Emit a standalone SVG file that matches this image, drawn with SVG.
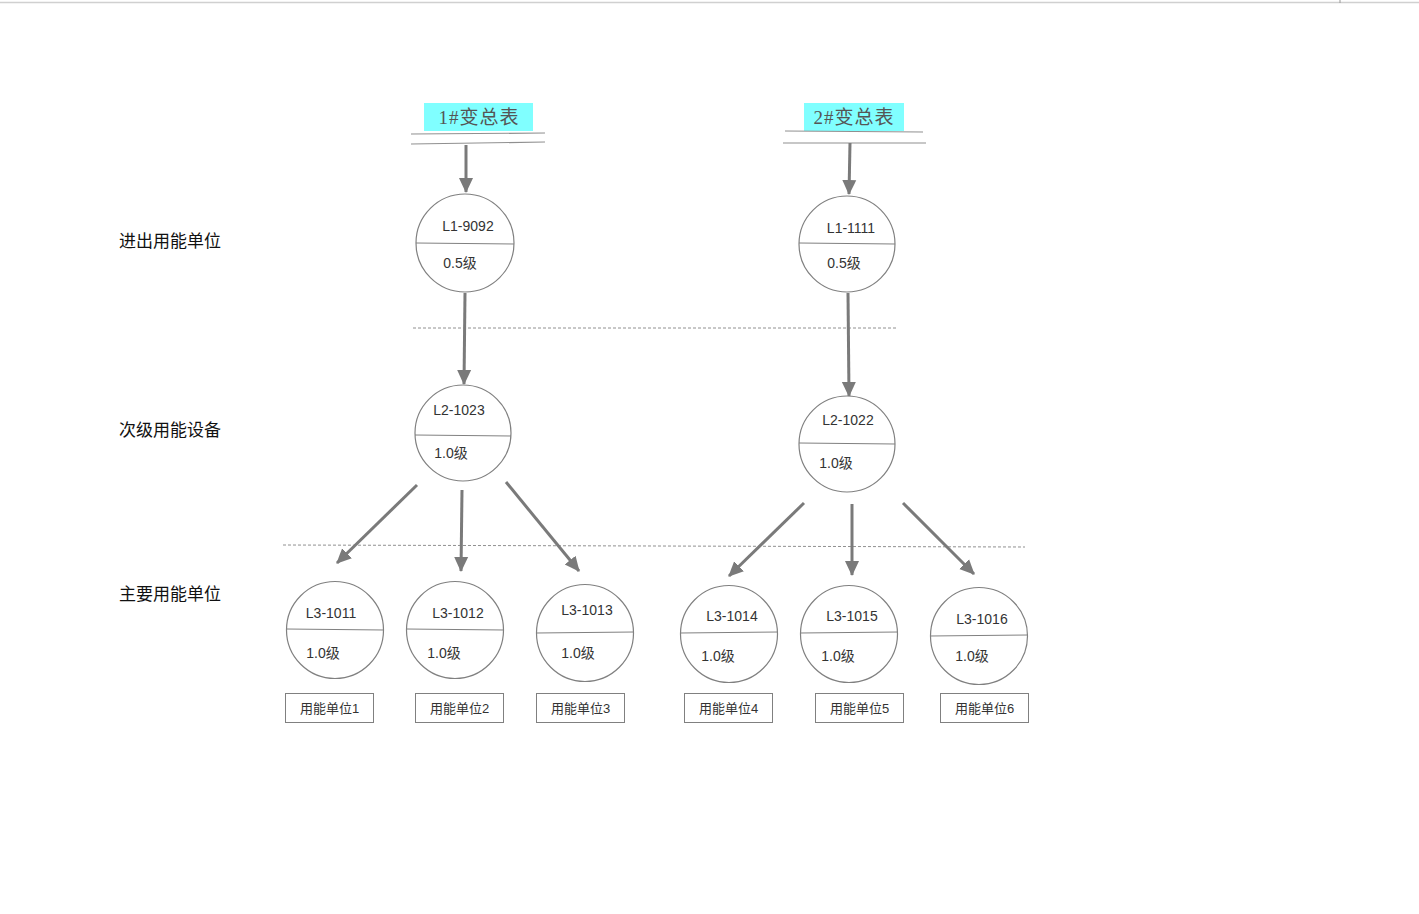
<svg xmlns="http://www.w3.org/2000/svg" width="1419" height="914" viewBox="0 0 1419 914">
  <style>
    .node circle { fill: #ffffff; stroke: #808080; stroke-width: 1.2; }
    .node line { stroke: #808080; stroke-width: 1; }
    .node text { font-family: "Liberation Sans", "Noto Sans CJK SC", sans-serif; font-size: 14px; fill: #333333; text-anchor: middle; }
    .unit rect { fill: #ffffff; stroke: #808080; stroke-width: 1; }
    .unit text { font-family: "Liberation Sans", "Noto Sans CJK SC", sans-serif; font-size: 13px; fill: #333333; text-anchor: middle; }
    .level { font-family: "Liberation Sans", "Noto Sans CJK SC", sans-serif; font-size: 17px; fill: #111111; }
    .meter rect { fill: #80ffff; }
    .meter text { font-family: "Liberation Serif", "Noto Sans CJK SC", serif; font-size: 19px; letter-spacing: 1px; fill: #555555; text-anchor: middle; }
    .meter line { stroke: #909090; stroke-width: 1.2; }
    .edges line { stroke: #7a7a7a; stroke-width: 3; marker-end: url(#arrow); }
    .sep { stroke: #909090; stroke-width: 1; stroke-dasharray: 3 2; }
  </style>
  <defs>
    <marker id="arrow" markerUnits="userSpaceOnUse" markerWidth="16" markerHeight="16" viewBox="0 0 16 16" refX="14" refY="8" orient="auto">
      <path d="M0,1 L15,8 L0,15 Z" fill="#7a7a7a"/>
    </marker>
  </defs>

  <rect width="1419" height="914" fill="#ffffff"/>
  <!-- top frame edge -->
  <line x1="0" y1="2.5" x2="1419" y2="2.5" stroke="#d0d0d0" stroke-width="1.5"/>
  <line x1="1340" y1="0" x2="1340" y2="3" stroke="#999999" stroke-width="1"/>

  <!-- level labels -->
  <text class="level" x="119" y="247">进出用能单位</text>
  <text class="level" x="119" y="436">次级用能设备</text>
  <text class="level" x="119" y="600">主要用能单位</text>

  <!-- level separators -->
  <line class="sep" x1="413" y1="328" x2="896" y2="328"/>
  <line class="sep" x1="283" y1="545" x2="1025" y2="547"/>

  <!-- transformer meters -->
  <g id="meter1" class="meter">
    <rect x="424" y="103" width="109" height="28"/>
    <text x="479" y="124">1#变总表</text>
    <line x1="411" y1="134" x2="545" y2="133"/>
    <line x1="411" y1="144" x2="545" y2="142"/>
  </g>
  <g id="meter2" class="meter">
    <rect x="804" y="103" width="100" height="28"/>
    <text x="854" y="124">2#变总表</text>
    <line x1="785" y1="131" x2="923" y2="132"/>
    <line x1="783" y1="143" x2="926" y2="143"/>
  </g>

  <!-- connectors -->
  <g id="edges" class="edges">
    <line x1="466" y1="145" x2="466" y2="192"/>
    <line x1="850" y1="143" x2="849" y2="194"/>
    <line x1="465" y1="293" x2="464" y2="384"/>
    <line x1="848" y1="293" x2="849" y2="396"/>
    <line x1="417" y1="485" x2="337" y2="563"/>
    <line x1="462" y1="490" x2="461" y2="571"/>
    <line x1="506" y1="482" x2="579" y2="571"/>
    <line x1="804" y1="503" x2="729" y2="576"/>
    <line x1="852" y1="504" x2="852" y2="575"/>
    <line x1="903" y1="503" x2="974" y2="574"/>
  </g>

  <!-- meter nodes -->
  <g id="L1-9092" class="node">
    <circle cx="465" cy="243" r="49"/>
    <line x1="416" y1="243" x2="514" y2="244"/>
    <text x="468" y="231">L1-9092</text>
    <text x="460" y="268">0.5级</text>
  </g>
  <g id="L1-1111" class="node">
    <circle cx="847" cy="244" r="48"/>
    <line x1="799" y1="243" x2="895" y2="244"/>
    <text x="851" y="233">L1-1111</text>
    <text x="844" y="268">0.5级</text>
  </g>
  <g id="L2-1023" class="node">
    <circle cx="463" cy="433" r="48"/>
    <line x1="415" y1="435" x2="511" y2="436"/>
    <text x="459" y="415">L2-1023</text>
    <text x="451" y="458">1.0级</text>
  </g>
  <g id="L2-1022" class="node">
    <circle cx="847" cy="444" r="48"/>
    <line x1="799" y1="443" x2="895" y2="444"/>
    <text x="848" y="425">L2-1022</text>
    <text x="836" y="468">1.0级</text>
  </g>
  <g id="L3-1011" class="node">
    <circle cx="335" cy="630" r="48.5"/>
    <line x1="286" y1="629" x2="384" y2="630"/>
    <text x="331" y="618">L3-1011</text>
    <text x="323" y="658">1.0级</text>
  </g>
  <g id="L3-1012" class="node">
    <circle cx="455" cy="630" r="48.5"/>
    <line x1="406" y1="629" x2="504" y2="630"/>
    <text x="458" y="618">L3-1012</text>
    <text x="444" y="658">1.0级</text>
  </g>
  <g id="L3-1013" class="node">
    <circle cx="585" cy="633" r="48.5"/>
    <line x1="536" y1="633" x2="634" y2="632"/>
    <text x="587" y="615">L3-1013</text>
    <text x="578" y="658">1.0级</text>
  </g>
  <g id="L3-1014" class="node">
    <circle cx="729" cy="634" r="48.5"/>
    <line x1="680" y1="633" x2="778" y2="632"/>
    <text x="732" y="621">L3-1014</text>
    <text x="718" y="661">1.0级</text>
  </g>
  <g id="L3-1015" class="node">
    <circle cx="849" cy="634" r="48.5"/>
    <line x1="800" y1="633" x2="898" y2="632"/>
    <text x="852" y="621">L3-1015</text>
    <text x="838" y="661">1.0级</text>
  </g>
  <g id="L3-1016" class="node">
    <circle cx="979" cy="636" r="48.5"/>
    <line x1="930" y1="636" x2="1028" y2="635"/>
    <text x="982" y="624">L3-1016</text>
    <text x="972" y="661">1.0级</text>
  </g>

  <!-- energy-using units -->
  <g id="unit1" class="unit">
    <rect x="285.5" y="693.5" width="88" height="29"/>
    <text x="329.5" y="713">用能单位1</text>
  </g>
  <g id="unit2" class="unit">
    <rect x="415.5" y="693.5" width="88" height="29"/>
    <text x="459.5" y="713">用能单位2</text>
  </g>
  <g id="unit3" class="unit">
    <rect x="536.5" y="693.5" width="88" height="29"/>
    <text x="580.5" y="713">用能单位3</text>
  </g>
  <g id="unit4" class="unit">
    <rect x="684.5" y="693.5" width="88" height="29"/>
    <text x="728.5" y="713">用能单位4</text>
  </g>
  <g id="unit5" class="unit">
    <rect x="815.5" y="693.5" width="88" height="29"/>
    <text x="859.5" y="713">用能单位5</text>
  </g>
  <g id="unit6" class="unit">
    <rect x="940.5" y="693.5" width="88" height="29"/>
    <text x="984.5" y="713">用能单位6</text>
  </g>
</svg>
